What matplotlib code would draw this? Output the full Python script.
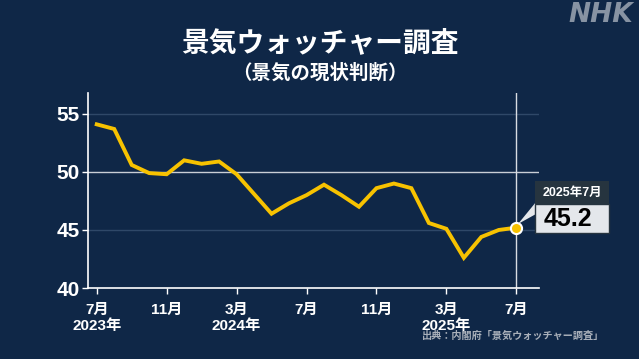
import matplotlib
matplotlib.use("Agg")
import matplotlib.pyplot as plt
from matplotlib.patches import Rectangle, Polygon

months = ["2023-07","2023-08","2023-09","2023-10","2023-11","2023-12",
          "2024-01","2024-02","2024-03","2024-04","2024-05","2024-06",
          "2024-07","2024-08","2024-09","2024-10","2024-11","2024-12",
          "2025-01","2025-02","2025-03","2025-04","2025-05","2025-06","2025-07"]
values = [54.1, 53.7, 50.6, 49.9, 49.8, 51.0, 50.7, 50.9, 49.8, 48.1, 46.4, 47.3,
          48.0, 48.9, 48.0, 47.0, 48.6, 49.0, 48.6, 45.6, 45.1, 42.6, 44.4, 45.0, 45.2]
tick_pos = [0, 4, 8, 12, 16, 20, 24]
tick_labels = ["7月\n2023年", "11月", "3月\n2024年", "7月", "11月", "3月\n2025年", "7月"]
y_ticks = [40, 45, 50, 55]

BG = "#0f2747"
YEL = "#f7c200"
FAM = ["Liberation Sans", "Noto Sans CJK JP", "DejaVu Sans"]
JP = ["Noto Sans CJK JP", "DejaVu Sans"]

fig = plt.figure(figsize=(6.39, 3.59), dpi=100, facecolor=BG)
ax = fig.add_axes([88/639, 1-288/359, (539-88)/639, (288-93)/359], facecolor=BG)
x = list(range(len(values)))

ax.set_xlim(-0.5, 25.3)
ax.set_ylim(40, 56.8)

for yv in [45, 55]:
    ax.axhline(yv, color="#2f4868", lw=1.0, zorder=1)
ax.axhline(50, color="#c9ced6", lw=1.0, zorder=1)
ax.axvline(24, color="#d8dce2", lw=1.0, zorder=1)

ax.plot(x, values, color=YEL, lw=2.8, zorder=3, solid_joinstyle="miter")
ax.plot([x[-1]], [values[-1]], "o", ms=8, mfc=YEL, mec="white", mew=1.5, zorder=5)

for s in ["top", "right"]:
    ax.spines[s].set_visible(False)
for s in ["left", "bottom"]:
    ax.spines[s].set_color("white")
    ax.spines[s].set_linewidth(1.2)

ax.set_yticks(y_ticks)
ax.set_yticklabels([str(v) for v in y_ticks], family=FAM, fontsize=15, fontweight="bold", color="white")
ax.set_xticks(tick_pos)
ax.set_xticklabels(tick_labels, family=FAM, fontsize=11, fontweight="bold", color="white", linespacing=1.15)
ax.tick_params(axis="y", length=4, width=1, color="white", pad=2)
ax.tick_params(axis="x", length=4, width=1, color="white", pad=7)

def fx(px): return px/639
def fy(py): return 1-py/359
tri = Polygon([(fx(518), fy(224)), (fx(536), fy(202)), (fx(536), fy(214))],
              closed=True, transform=fig.transFigure, facecolor="#e4e7eb", edgecolor="none", zorder=6)
fig.patches.append(tri)
fig.patches.append(Rectangle((fx(535), fy(204)), fx(609)-fx(535), fy(181)-fy(204),
                             transform=fig.transFigure, facecolor="#26343f", edgecolor="none", zorder=6))
fig.patches.append(Rectangle((fx(535), fy(233)), fx(609)-fx(535), fy(204)-fy(233),
                             transform=fig.transFigure, facecolor="#e4e7eb", edgecolor="#26343f", lw=1, zorder=6))
fig.text(fx(572), fy(192.5), "2025年7月", family=FAM, fontsize=9, fontweight="bold",
         color="white", ha="center", va="center", zorder=7)
fig.text(fx(568), fy(219), f"{values[-1]:.1f}", family=FAM, fontsize=18, fontweight="bold",
         color="black", ha="center", va="center", zorder=7)

fig.text(0.5, fy(43), "景気ウォッチャー調査", family=JP, fontsize=20, fontweight="bold",
         color="white", ha="center", va="center")
fig.text(0.5, fy(73), "（景気の現状判断）", family=JP, fontsize=14, fontweight="bold",
         color="white", ha="center", va="center")
fig.text(fx(633), fy(15), "NHK", family=["DejaVu Sans"], fontsize=19, fontweight="bold",
         style="italic", color="#8793a3", ha="right", va="center")
fig.text(fx(604), fy(336), "出典：内閣府「景気ウォッチャー調査」", family=JP, fontsize=7.3,
         fontweight="bold", color="#a9b0ba", ha="right", va="center")

fig.savefig("out.png", dpi=100, facecolor=BG)
